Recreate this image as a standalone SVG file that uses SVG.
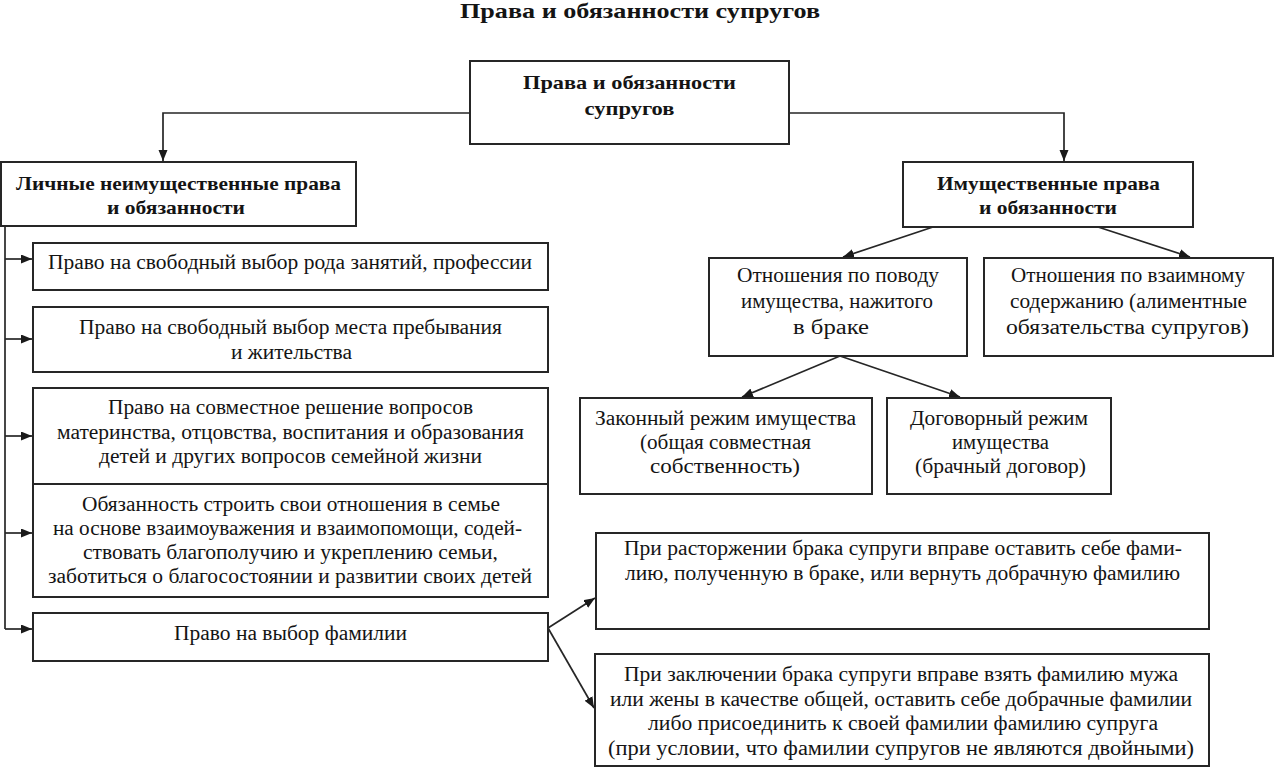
<svg xmlns="http://www.w3.org/2000/svg" width="1275" height="768" viewBox="0 0 1275 768">
<style>
  .box { fill: #ffffff; stroke: #262626; stroke-width: 2; }
  .t { font-family: "Liberation Serif", "Times New Roman", "DejaVu Serif", serif; font-size: 20px; fill: #141414; text-anchor: middle; }
  .b { font-family: "Liberation Serif", "Times New Roman", "DejaVu Serif", serif; font-size: 19px; font-weight: bold; fill: #141414; text-anchor: middle; }
  .title { font-family: "Liberation Serif", "Times New Roman", "DejaVu Serif", serif; font-size: 22px; font-weight: bold; fill: #141414; text-anchor: middle; }
  .c { fill: none; stroke: #262626; stroke-width: 1.7; }
</style>
<defs>
  <marker id="arr" markerUnits="userSpaceOnUse" markerWidth="12" markerHeight="10" refX="11" refY="4.5" orient="auto">
    <path d="M0,0 L11,4.5 L0,9 z" fill="#1a1a1a"/>
  </marker>
</defs>
<rect width="1275" height="768" fill="#ffffff"/>

<text id="title" class="title" x="640" y="18" textLength="360" lengthAdjust="spacingAndGlyphs">Права и обязанности супругов</text>

<g id="connectors">
  <path class="c" d="M470,113 H163 V161" marker-end="url(#arr)"/>
  <path class="c" d="M789,113 H1064 V161" marker-end="url(#arr)"/>
  <path class="c" d="M933,227 L843,257" marker-end="url(#arr)"/>
  <path class="c" d="M1098,227 L1190,257" marker-end="url(#arr)"/>
  <path class="c" d="M840,356 L742,397" marker-end="url(#arr)"/>
  <path class="c" d="M840,356 L960,397" marker-end="url(#arr)"/>
  <path class="c" d="M5,226 V629"/>
  <path class="c" d="M5,259 H32" marker-end="url(#arr)"/>
  <path class="c" d="M5,339 H32" marker-end="url(#arr)"/>
  <path class="c" d="M5,436 H32" marker-end="url(#arr)"/>
  <path class="c" d="M5,533 H32" marker-end="url(#arr)"/>
  <path class="c" d="M5,629 H32" marker-end="url(#arr)"/>
  <path class="c" d="M548,628 L595,598" marker-end="url(#arr)"/>
  <path class="c" d="M548,628 L594,708" marker-end="url(#arr)"/>
</g>

<g id="root">
  <rect class="box" x="470" y="61" width="319" height="83"/>
  <text class="b" x="629.5" y="89" textLength="213" lengthAdjust="spacingAndGlyphs">Права и обязанности</text>
  <text class="b" x="629.5" y="115" textLength="90" lengthAdjust="spacingAndGlyphs">супругов</text>
</g>

<g id="personal">
  <rect class="box" x="1" y="162" width="355" height="64"/>
  <text class="b" x="178.5" y="190" textLength="325" lengthAdjust="spacingAndGlyphs">Личные неимущественные права</text>
  <text class="b" x="176" y="214" textLength="138" lengthAdjust="spacingAndGlyphs">и обязанности</text>
</g>

<g id="property">
  <rect class="box" x="903" y="162" width="290" height="65"/>
  <text class="b" x="1048.5" y="190" textLength="223" lengthAdjust="spacingAndGlyphs">Имущественные права</text>
  <text class="b" x="1048" y="214" textLength="138" lengthAdjust="spacingAndGlyphs">и обязанности</text>
</g>

<g id="p1">
  <rect class="box" x="33" y="243" width="515" height="47"/>
  <text class="t" x="290" y="269" textLength="484" lengthAdjust="spacingAndGlyphs">Право на свободный выбор рода занятий, профессии</text>
</g>

<g id="p2">
  <rect class="box" x="33" y="307" width="515" height="65"/>
  <text class="t" x="290.5" y="334" textLength="423" lengthAdjust="spacingAndGlyphs">Право на свободный выбор места пребывания</text>
  <text class="t" x="291.5" y="359" textLength="121" lengthAdjust="spacingAndGlyphs">и жительства</text>
</g>

<g id="p3">
  <rect class="box" x="33" y="388" width="515" height="96"/>
  <text class="t" x="290.5" y="414" textLength="365" lengthAdjust="spacingAndGlyphs">Право на совместное решение вопросов</text>
  <text class="t" x="290.5" y="439" textLength="467" lengthAdjust="spacingAndGlyphs">материнства, отцовства, воспитания и образования</text>
  <text class="t" x="290.5" y="463" textLength="383" lengthAdjust="spacingAndGlyphs">детей и других вопросов семейной жизни</text>
</g>

<g id="p4">
  <rect class="box" x="33" y="484" width="515" height="113"/>
  <text class="t" x="291" y="511" textLength="418" lengthAdjust="spacingAndGlyphs">Обязанность строить свои отношения в семье</text>
  <text class="t" x="287.5" y="535" textLength="469" lengthAdjust="spacingAndGlyphs">на основе взаимоуважения и взаимопомощи, содей-</text>
  <text class="t" x="290.5" y="559" textLength="415" lengthAdjust="spacingAndGlyphs">ствовать благополучию и укреплению семьи,</text>
  <text class="t" x="290" y="583" textLength="484" lengthAdjust="spacingAndGlyphs">заботиться о благосостоянии и развитии своих детей</text>
</g>

<g id="p5">
  <rect class="box" x="33" y="613" width="515" height="48"/>
  <text class="t" x="290.5" y="640" textLength="233" lengthAdjust="spacingAndGlyphs">Право на выбор фамилии</text>
</g>

<g id="r1">
  <rect class="box" x="709" y="258" width="258" height="98"/>
  <text class="t" x="838" y="282" textLength="202" lengthAdjust="spacingAndGlyphs">Отношения по поводу</text>
  <text class="t" x="837" y="308" textLength="192" lengthAdjust="spacingAndGlyphs">имущества, нажитого</text>
  <text class="t" x="831" y="334" textLength="76" lengthAdjust="spacingAndGlyphs">в браке</text>
</g>

<g id="r2">
  <rect class="box" x="984" y="258" width="289" height="98"/>
  <text class="t" x="1128" y="282" textLength="234" lengthAdjust="spacingAndGlyphs">Отношения по взаимному</text>
  <text class="t" x="1128.5" y="308" textLength="237" lengthAdjust="spacingAndGlyphs">содержанию (алиментные</text>
  <text class="t" x="1127.5" y="334" textLength="243" lengthAdjust="spacingAndGlyphs">обязательства супругов)</text>
</g>

<g id="r11">
  <rect class="box" x="580" y="398" width="292" height="96"/>
  <text class="t" x="725.5" y="425" textLength="261" lengthAdjust="spacingAndGlyphs">Законный режим имущества</text>
  <text class="t" x="725.5" y="449" textLength="171" lengthAdjust="spacingAndGlyphs">(общая совместная</text>
  <text class="t" x="725" y="473" textLength="150" lengthAdjust="spacingAndGlyphs">собственность)</text>
</g>

<g id="r12">
  <rect class="box" x="887" y="398" width="224" height="96"/>
  <text class="t" x="999" y="425" textLength="178" lengthAdjust="spacingAndGlyphs">Договорный режим</text>
  <text class="t" x="1000.5" y="449" textLength="97" lengthAdjust="spacingAndGlyphs">имущества</text>
  <text class="t" x="1000.5" y="473" textLength="171" lengthAdjust="spacingAndGlyphs">(брачный договор)</text>
</g>

<g id="f1">
  <rect class="box" x="596" y="533" width="613" height="96"/>
  <text class="t" x="903" y="555" textLength="558" lengthAdjust="spacingAndGlyphs">При расторжении брака супруги вправе оставить себе фами-</text>
  <text class="t" x="902.5" y="580" textLength="555" lengthAdjust="spacingAndGlyphs">лию, полученную в браке, или вернуть добрачную фамилию</text>
</g>

<g id="f2">
  <rect class="box" x="595" y="654" width="614" height="112"/>
  <text class="t" x="901" y="681" textLength="554" lengthAdjust="spacingAndGlyphs">При заключении брака супруги вправе взять фамилию мужа</text>
  <text class="t" x="901" y="706" textLength="582" lengthAdjust="spacingAndGlyphs">или жены в качестве общей, оставить себе добрачные фамилии</text>
  <text class="t" x="903" y="730" textLength="510" lengthAdjust="spacingAndGlyphs">либо присоединить к своей фамилии фамилию супруга</text>
  <text class="t" x="901" y="755" textLength="586" lengthAdjust="spacingAndGlyphs">(при условии, что фамилии супругов не являются двойными)</text>
</g>
</svg>
